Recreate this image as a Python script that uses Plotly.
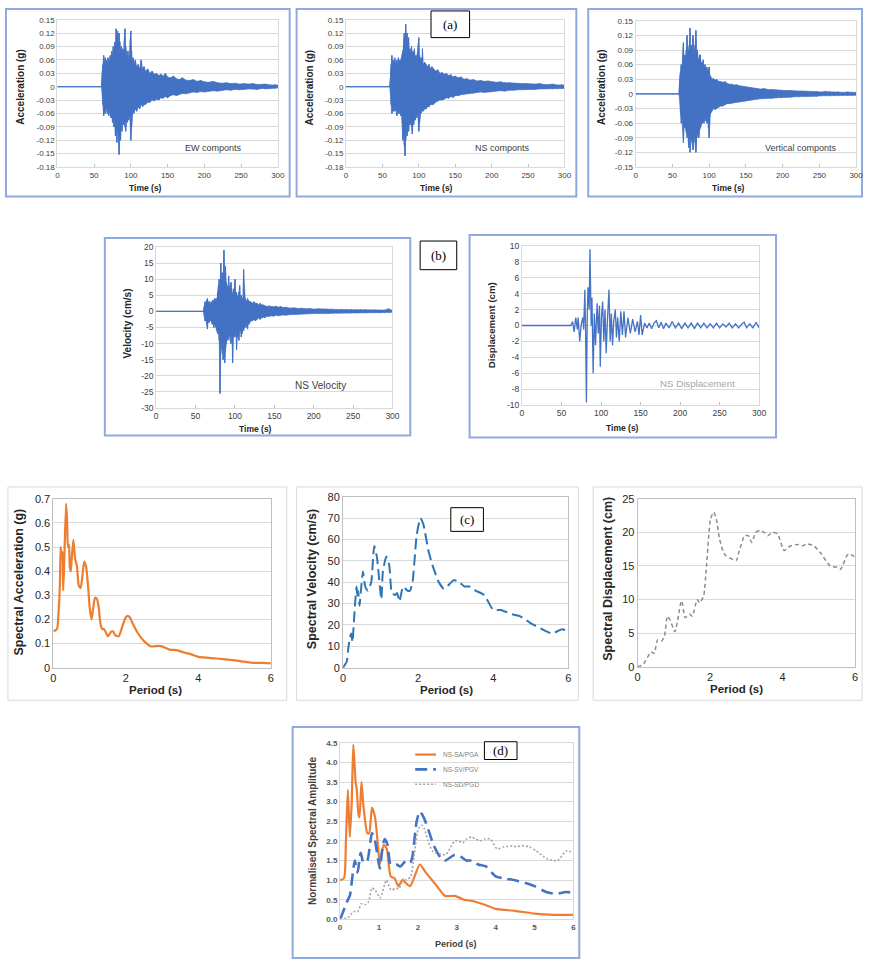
import plotly.graph_objects as go

# ---------------- DATA ----------------
# (a) acceleration records: time (s), upper / lower envelope peaks (g)
EW_T = [0, 60, 61, 62, 63, 64, 65, 66, 67, 68,
        69, 70, 71, 72, 73, 74, 75, 76, 77, 78,
        79, 80, 81, 82, 83, 84, 85, 86, 87, 88,
        89, 90, 91, 92, 93, 94, 95, 96, 97, 98,
        99, 100, 101, 102, 103, 104, 106, 108, 110, 112,
        114, 116, 118, 120, 123, 126, 129, 132, 135, 138,
        141, 144, 147, 150, 154, 158, 162, 166, 170, 175,
        180, 185, 190, 195, 200, 206, 212, 218, 224, 230,
        236, 242, 248, 254, 260, 266, 272, 278, 284, 290,
        296, 300]
EW_UP = [0, 0, 0.03, 0.05, 0.07, 0.05, 0.065, 0.04, 0.06, 0.05,
         0.065, 0.045, 0.06, 0.07, 0.055, 0.08, 0.065, 0.09, 0.075, 0.1,
         0.085, 0.13, 0.11, 0.125, 0.095, 0.12, 0.1, 0.08, 0.09, 0.075,
         0.085, 0.07, 0.1, 0.13, 0.09, 0.075, 0.065, 0.08, 0.06, 0.07,
         0.1, 0.125, 0.08, 0.06, 0.065, 0.05, 0.06, 0.045, 0.05, 0.04,
         0.06, 0.04, 0.045, 0.035, 0.04, 0.03, 0.035, 0.028, 0.03, 0.025,
         0.028, 0.024, 0.03, 0.022, 0.02, 0.024, 0.018, 0.016, 0.02, 0.015,
         0.014, 0.016, 0.012, 0.014, 0.011, 0.01, 0.012, 0.009, 0.008, 0.009,
         0.007, 0.008, 0.006, 0.007, 0.006, 0.007, 0.005, 0.005, 0.006, 0.004,
         0.005, 0.004]
EW_LO = [0, 0, -0.03, -0.04, -0.065, -0.05, -0.06, -0.045, -0.055, -0.06,
         -0.05, -0.065, -0.05, -0.06, -0.07, -0.065, -0.08, -0.07, -0.09, -0.085,
         -0.11, -0.1, -0.125, -0.09, -0.11, -0.152, -0.11, -0.12, -0.09, -0.1,
         -0.07, -0.085, -0.075, -0.09, -0.1, -0.07, -0.08, -0.06, -0.075, -0.065,
         -0.08, -0.12, -0.09, -0.06, -0.055, -0.06, -0.05, -0.055, -0.045, -0.05,
         -0.04, -0.045, -0.04, -0.04, -0.035, -0.035, -0.03, -0.032, -0.028, -0.03,
         -0.025, -0.026, -0.022, -0.025, -0.02, -0.018, -0.02, -0.017, -0.015, -0.016,
         -0.014, -0.012, -0.013, -0.011, -0.012, -0.01, -0.009, -0.01, -0.008, -0.007,
         -0.008, -0.006, -0.007, -0.006, -0.005, -0.005, -0.006, -0.004, -0.005, -0.004,
         -0.004, -0.003]

NS_T = [0, 60, 61, 62, 63, 64, 65, 66, 67, 68, 69,
        70, 71, 72, 73, 74, 75, 76, 77, 78, 79,
        80, 81, 82, 83, 84, 85, 86, 87, 88, 89,
        90, 91, 92, 93, 94, 95, 96, 97, 98, 99,
        100, 101, 102, 103, 104, 105, 106, 108, 110, 112,
        114, 116, 118, 120, 123, 126, 129, 132, 135, 138,
        141, 144, 147, 150, 154, 158, 162, 166, 170, 175,
        180, 185, 190, 195, 200, 206, 212, 218, 224, 230,
        236, 242, 248, 254, 260, 266, 272, 278, 284, 290,
        296, 300]
NS_UP = [0, 0, 0.02, 0.05, 0.07, 0.05, 0.06, 0.045, 0.065, 0.05, 0.055,
         0.06, 0.045, 0.065, 0.05, 0.06, 0.055, 0.065, 0.07, 0.08, 0.09,
         0.12, 0.1, 0.14, 0.11, 0.12, 0.09, 0.11, 0.08, 0.085, 0.07,
         0.09, 0.075, 0.08, 0.07, 0.085, 0.065, 0.07, 0.06, 0.075, 0.09,
         0.11, 0.07, 0.06, 0.065, 0.055, 0.085, 0.05, 0.055, 0.05, 0.045,
         0.05, 0.04, 0.045, 0.04, 0.035, 0.038, 0.03, 0.032, 0.028, 0.03,
         0.025, 0.027, 0.022, 0.024, 0.02, 0.022, 0.017, 0.018, 0.015, 0.016,
         0.013, 0.014, 0.012, 0.013, 0.011, 0.01, 0.011, 0.009, 0.009, 0.008,
         0.008, 0.007, 0.007, 0.006, 0.006, 0.007, 0.005, 0.005, 0.006, 0.004,
         0.005, 0.004]
NS_LO = [0, 0, -0.02, -0.04, -0.06, -0.05, -0.055, -0.05, -0.055, -0.045, -0.06,
         -0.065, -0.05, -0.06, -0.055, -0.06, -0.065, -0.06, -0.08, -0.12, -0.1,
         -0.13, -0.155, -0.12, -0.1, -0.11, -0.09, -0.1, -0.08, -0.085, -0.075,
         -0.09, -0.106, -0.08, -0.085, -0.07, -0.075, -0.065, -0.07, -0.06, -0.075,
         -0.1, -0.08, -0.06, -0.06, -0.055, -0.05, -0.055, -0.05, -0.05, -0.045,
         -0.045, -0.04, -0.04, -0.04, -0.035, -0.032, -0.03, -0.03, -0.028, -0.025,
         -0.026, -0.022, -0.024, -0.02, -0.02, -0.018, -0.017, -0.016, -0.015, -0.015,
         -0.013, -0.012, -0.013, -0.011, -0.011, -0.01, -0.009, -0.01, -0.008, -0.008,
         -0.007, -0.007, -0.006, -0.006, -0.006, -0.005, -0.005, -0.005, -0.005, -0.004,
         -0.004, -0.004]

VT_T = [0, 59, 60, 61, 62, 63, 64, 65, 66, 67,
        68, 69, 70, 71, 72, 73, 74, 75, 76, 77,
        78, 79, 80, 81, 82, 83, 84, 85, 86, 87,
        88, 89, 90, 91, 92, 93, 94, 95, 96, 97,
        98, 99, 100, 101, 102, 104, 106, 108, 110, 113,
        116, 119, 122, 125, 128, 131, 134, 137, 140, 144,
        148, 152, 156, 160, 165, 170, 175, 180, 186, 192,
        198, 204, 210, 216, 222, 228, 234, 240, 246, 252,
        258, 264, 270, 276, 282, 288, 294, 300]
VT_UP = [0, 0, 0.03, 0.045, 0.06, 0.05, 0.07, 0.105, 0.06, 0.08,
         0.065, 0.09, 0.12, 0.08, 0.09, 0.1, 0.135, 0.09, 0.1, 0.085,
         0.12, 0.08, 0.08, 0.1, 0.13, 0.09, 0.09, 0.075, 0.07, 0.08,
         0.08, 0.065, 0.065, 0.06, 0.07, 0.055, 0.06, 0.06, 0.05, 0.055,
         0.045, 0.05, 0.055, 0.04, 0.035, 0.03, 0.032, 0.028, 0.03, 0.026,
         0.025, 0.024, 0.025, 0.021, 0.02, 0.02, 0.018, 0.019, 0.017, 0.016,
         0.015, 0.014, 0.013, 0.012, 0.011, 0.01, 0.011, 0.009, 0.009, 0.008,
         0.008, 0.007, 0.007, 0.006, 0.006, 0.006, 0.005, 0.005, 0.005, 0.004,
         0.005, 0.004, 0.004, 0.004, 0.003, 0.004, 0.003, 0.003]
VT_LO = [0, 0, -0.03, -0.04, -0.06, -0.05, -0.08, -0.1, -0.07, -0.065,
         -0.07, -0.08, -0.09, -0.085, -0.11, -0.09, -0.12, -0.1, -0.09, -0.1,
         -0.115, -0.09, -0.09, -0.1, -0.12, -0.085, -0.08, -0.09, -0.09, -0.075,
         -0.07, -0.065, -0.06, -0.06, -0.055, -0.06, -0.05, -0.055, -0.05, -0.06,
         -0.05, -0.07, -0.09, -0.05, -0.04, -0.035, -0.03, -0.032, -0.03, -0.027,
         -0.025, -0.025, -0.022, -0.02, -0.02, -0.019, -0.018, -0.017, -0.016, -0.016,
         -0.015, -0.014, -0.013, -0.012, -0.011, -0.01, -0.01, -0.009, -0.009, -0.008,
         -0.008, -0.007, -0.007, -0.006, -0.006, -0.005, -0.005, -0.005, -0.005, -0.004,
         -0.004, -0.004, -0.004, -0.003, -0.003, -0.003, -0.003, -0.003]

# (b) NS velocity (cm/s) envelope peaks
VEL_T = [0, 60, 61, 62, 63, 64, 65, 66, 67, 68,
         69, 70, 71, 72, 73, 74, 75, 76, 77, 78,
         79, 80, 81, 82, 83, 84, 85, 86, 87, 88,
         89, 90, 91, 92, 93, 94, 95, 96, 97, 98,
         99, 100, 101, 102, 103, 104, 105, 106, 107, 108,
         109, 110, 111, 112, 113, 114, 115, 116, 117, 118,
         120, 122, 124, 126, 128, 130, 132, 134, 136, 138,
         140, 143, 146, 149, 152, 155, 158, 161, 165, 170,
         175, 180, 185, 190, 195, 200, 206, 212, 218, 224,
         230, 236, 242, 248, 254, 260, 266, 272, 278, 284,
         290, 295, 300]
VEL_UP = [0, 0, 1.5, 3, 2, 3.5, 4, 3, 2.5, 3,
          2, 3, 2.5, 3.5, 3, 4, 3, 4, 3.5, 6,
          8, 10, 6, 15, 9, 12, 8, 19, 11, 14,
          9, 8, 6, 11, 7, 8, 9, 6, 5, 7,
          6, 10, 5, 6, 4, 5, 6, 8, 4, 5,
          4, 3, 13, 5, 4, 3.5, 3, 4, 3.5, 3,
          3, 2.5, 3, 2.5, 2.5, 2, 2.5, 2, 2, 1.8,
          1.5, 1.7, 1.5, 1.4, 1.6, 1.3, 1.5, 1.2, 1.3, 1.0,
          1.1, 0.9, 1.0, 0.8, 0.9, 0.7, 0.8, 0.7, 0.6, 0.7,
          0.6, 0.6, 0.5, 0.6, 0.5, 0.5, 0.5, 0.4, 0.5, 0.4,
          0.4, 0.8, 0.3]
VEL_LO = [0, 0, -1.5, -3, -2.5, -4, -5.5, -3, -3.5, -2.5,
          -3, -3, -4, -3, -5, -4, -4.5, -5, -6, -7,
          -6, -9, -25.5, -13, -10, -12, -15, -9, -16, -12,
          -10, -8, -9, -8, -7, -9, -10, -6, -16, -8,
          -7, -8, -6, -12, -7, -8, -9, -5, -6, -8,
          -7, -5, -6, -5, -4, -5, -4, -5.5, -3.5, -4,
          -3, -3, -2.5, -3, -2.5, -2, -2.5, -2, -1.8, -2,
          -1.5, -1.6, -1.4, -1.5, -1.2, -1.4, -1.2, -1.1, -1.2, -1.0,
          -1.0, -0.9, -0.9, -0.8, -0.8, -0.7, -0.7, -0.6, -0.7, -0.6,
          -0.6, -0.5, -0.5, -0.5, -0.5, -0.4, -0.5, -0.4, -0.4, -0.4,
          -0.4, -0.4, -0.3]

# (b) NS displacement (cm)
DIS_T = [0, 62, 64, 66, 68, 70, 71, 73, 75, 77, 78, 79.5, 80.5, 81.5, 82.5, 83.5,
         85, 86, 87.5, 88.5, 90, 91.5, 93, 95, 96.5, 98, 99, 100.5, 102, 103.5,
         105, 106.5, 108, 110, 111.5, 113, 114.5, 116, 118, 119.5, 121, 123, 125,
         127, 129, 131, 134, 137, 140, 143, 146, 148, 150, 152, 155, 158, 161, 164,
         167, 170, 173, 176, 179, 182, 186, 190, 194, 198, 202, 206, 210, 214, 218,
         222, 226, 230, 234, 238, 242, 246, 250, 254, 258, 262, 266, 270, 274, 278,
         281, 284, 288, 292, 296, 300]
DIS_V = [0, 0, 0.5, -0.8, 1.0, -0.5, 1.0, -2.0, 0.2, 1.0, -0.5, 4.5, -1.0, -9.7, 1.0, 4.8,
         2.0, 9.6, 0.0, 3.5, -6.0, 1.5, -2.5, 2.8, -1.0, 2.5, -5.2, 1.0, 3.0, -2.0,
         2.0, -3.5, 0.5, 4.5, -2.0, 1.5, -2.5, 0.5, 2.0, -1.5, 1.0, -2.0, 1.8,
         -1.2, 1.8, -1.5, 1.0, -1.0, 0.8, -0.8, 0.5, -1.2, 1.3, -1.2, 0.3, -0.3, 0.3, -0.4,
         0.3, 0.6, -0.3, 0.4, -0.4, 0.3, -0.3, 0.5, -0.3, 0.3, -0.4, 0.3, -0.3, 0.3, -0.4,
         0.3, -0.3, 0.3, -0.3, 0.2, -0.3, 0.3, -0.3, 0.2, -0.2, 0.3, -0.3, 0.2, -0.3, 0.2,
         0.4, -0.3, 0.2, -0.3, 0.4, -0.3]

# (c) response spectra
SA_T = [0, 0.05, 0.1, 0.15, 0.18, 0.2, 0.22, 0.25, 0.27, 0.3, 0.35, 0.38, 0.4, 0.43,
        0.45, 0.48, 0.5, 0.55, 0.6, 0.65, 0.7, 0.75, 0.8, 0.85, 0.9, 0.95, 1.0, 1.05,
        1.1, 1.15, 1.2, 1.25, 1.3, 1.35, 1.4, 1.5, 1.6, 1.65, 1.7, 1.8, 1.9, 2.0, 2.05,
        2.1, 2.2, 2.3, 2.5, 2.7, 2.9, 3.0, 3.2, 3.4, 3.6, 3.8, 4.0, 4.5, 5.0, 5.5, 5.8, 6.0]
SA_V = [0.15, 0.155, 0.16, 0.25, 0.35, 0.5, 0.45, 0.48, 0.32, 0.45, 0.68, 0.6, 0.5, 0.51,
        0.42, 0.4, 0.44, 0.53, 0.45, 0.42, 0.34, 0.33, 0.38, 0.44, 0.42, 0.35, 0.25, 0.2,
        0.25, 0.29, 0.285, 0.25, 0.18, 0.16, 0.16, 0.13, 0.15, 0.15, 0.135, 0.13, 0.17, 0.21, 0.215,
        0.21, 0.18, 0.15, 0.11, 0.088, 0.09, 0.088, 0.075, 0.073, 0.063, 0.055, 0.045, 0.038, 0.03, 0.02, 0.02, 0.018]

SV_T = [0, 0.1, 0.14, 0.18, 0.22, 0.25, 0.32, 0.36, 0.38, 0.4, 0.44, 0.47, 0.53, 0.57, 0.59,
        0.66, 0.75, 0.83, 0.9, 0.98, 1.02, 1.06, 1.15, 1.23, 1.3, 1.39, 1.44, 1.5, 1.6, 1.72,
        1.78, 1.85, 1.96, 2.06, 2.14, 2.27, 2.38, 2.55, 2.68, 2.77, 2.95, 3.1, 3.23, 3.37,
        3.54, 3.76, 4.0, 4.2, 4.5, 4.72, 4.98, 5.3, 5.56, 5.83, 6.0]
SV_V = [0, 3, 9, 14, 16, 12, 30, 38, 33, 36, 29, 35, 45, 40, 38,
        36, 40, 57, 52, 38, 32, 45, 52, 48, 35, 34, 35, 31, 38, 36,
        36, 40, 62, 70, 67, 55, 48, 40, 37, 38, 41, 40, 38, 38,
        36, 34, 27, 27, 25, 24, 21, 18, 16, 18, 17]

SD_T = [0, 0.15, 0.37, 0.46, 0.55, 0.66, 0.74, 0.82, 0.89, 1.03, 1.19, 1.22, 1.31, 1.44,
        1.51, 1.64, 1.71, 1.82, 1.9, 2.01, 2.1, 2.17, 2.26, 2.37, 2.44, 2.72, 2.79, 2.95,
        3.05, 3.15, 3.26, 3.38, 3.49, 3.59, 3.72, 3.86, 4.04, 4.22, 4.45, 4.54, 4.68, 4.86,
        5.04, 5.31, 5.5, 5.6, 5.77, 5.83, 6.0]
SD_V = [0, 0.3, 2.2, 2.0, 4.0, 3.8, 4.5, 7.5, 7.0, 5.2, 9.5, 9.8, 7.3, 7.8,
        7.5, 10.0, 9.5, 10.5, 15.0, 22.0, 23.0, 22.0, 19.0, 17.0, 16.5, 15.8, 17.0, 19.5,
        19.5, 18.5, 20.0, 20.3, 20.0, 19.5, 20.0, 19.8, 17.3, 18.0, 18.2, 18.0, 18.3, 18.0,
        17.0, 15.0, 14.8, 14.5, 16.5, 16.8, 16.3]

# (d) normalised spectra
NSA_T = [0, 0.1, 0.15, 0.2, 0.25, 0.3, 0.34, 0.4, 0.43, 0.47, 0.5, 0.55, 0.6, 0.7, 0.75,
         0.82, 0.9, 0.98, 1.02, 1.12, 1.2, 1.3, 1.4, 1.5, 1.6, 1.8, 2.05, 2.2, 2.45, 2.7,
         2.95, 3.2, 3.4, 3.7, 4.0, 4.5, 5.0, 5.5, 6.0]
NSA_V = [1.0, 1.05, 2.0, 3.3, 2.1, 3.0, 4.45, 3.5, 3.3, 2.7, 2.6, 3.5, 2.9, 2.2, 2.2,
         2.85, 2.6, 1.8, 1.4, 1.9, 1.8, 1.1, 1.05, 0.85, 1.0, 0.85, 1.4, 1.2, 0.9, 0.6,
         0.6, 0.5, 0.47, 0.38, 0.27, 0.22, 0.15, 0.12, 0.12]
NSV_T = [0, 0.2, 0.25, 0.33, 0.38, 0.45, 0.53, 0.6, 0.7, 0.82, 0.9, 1.02, 1.1, 1.15, 1.22,
         1.3, 1.45, 1.55, 1.7, 1.8, 1.85, 1.97, 2.05, 2.15, 2.3, 2.4, 2.6, 2.7, 2.95, 3.1,
         3.25, 3.4, 3.55, 3.75, 4.0, 4.2, 4.5, 4.7, 5.0, 5.3, 5.55, 5.8, 6.0]
NSV_V = [0, 0.5, 0.6, 1.2, 1.5, 1.2, 1.7, 1.45, 1.5, 2.2, 2.0, 1.3, 1.9, 2.05, 1.9,
         1.4, 1.4, 1.35, 1.5, 1.45, 1.55, 2.5, 2.75, 2.6, 2.2, 1.9, 1.55, 1.5, 1.65, 1.6,
         1.5, 1.5, 1.4, 1.35, 1.1, 1.05, 1.0, 0.95, 0.85, 0.7, 0.65, 0.7, 0.68]
NSD_T = [0, 0.2, 0.35, 0.45, 0.55, 0.65, 0.73, 0.82, 0.9, 1.03, 1.19, 1.31, 1.44, 1.51,
         1.64, 1.71, 1.82, 1.9, 2.01, 2.1, 2.17, 2.26, 2.37, 2.44, 2.72, 2.79, 2.95, 3.05,
         3.15, 3.26, 3.38, 3.49, 3.59, 3.72, 3.86, 4.04, 4.22, 4.45, 4.54, 4.68, 4.86, 5.04,
         5.31, 5.5, 5.6, 5.77, 5.83, 6.0]
NSD_V = [0, 0.05, 0.2, 0.2, 0.4, 0.38, 0.45, 0.8, 0.75, 0.55, 1.0, 0.75, 0.8, 0.78,
         1.05, 1.0, 1.1, 1.6, 2.3, 2.4, 2.3, 2.0, 1.75, 1.7, 1.65, 1.75, 2.0, 2.0,
         1.95, 2.05, 2.1, 2.05, 2.0, 2.05, 2.05, 1.8, 1.85, 1.87, 1.85, 1.88, 1.85, 1.75,
         1.55, 1.5, 1.5, 1.7, 1.75, 1.7]
LEGEND_NAMES = ["NS-SA/PGA", "NS-SV/PGV", "NS-SD/PGD"]

# tick labels
ACC_TICKS_A = [0.15, 0.12, 0.09, 0.06, 0.03, 0, -0.03, -0.06, -0.09, -0.12, -0.15, -0.18]
ACC_TEXT_A = ["0.15", "0.12", "0.09", "0.06", "0.03", "0", "-0.03", "-0.06", "-0.09", "-0.12", "-0.15", "-0.18"]
ACC_TICKS_V = [0.15, 0.12, 0.09, 0.06, 0.03, 0, -0.03, -0.06, -0.09, -0.12, -0.15]
ACC_TEXT_V = ["0.15", "0.12", "0.09", "0.06", "0.03", "0", "-0.03", "-0.06", "-0.09", "-0.12", "-0.15"]
VEL_TICKS = [20, 15, 10, 5, 0, -5, -10, -15, -20, -25, -30]
VEL_TEXT = ["20", "15", "10", "5", "0", "-5", "-10", "-15", "-20", "-25", "-30"]
DIS_TICKS = [10, 8, 6, 4, 2, 0, -2, -4, -6, -8, -10]
DIS_TEXT = ["10", "8", "6", "4", "2", "0", "-2", "-4", "-6", "-8", "-10"]
NORM_TICKS = [0, 0.5, 1, 1.5, 2, 2.5, 3, 3.5, 4, 4.5]
NORM_TEXT = ["0.0", "0.5", "1.0", "1.5", "2.0", "2.5", "3.0", "3.5", "4.0", "4.5"]

# ---------------- LAYOUT HELPERS ----------------
W, H = 871, 965
def fx(p): return p / W
def fy(p): return 1 - p / H

def zigzag(t, up, lo):
    xs, ys = [], []
    for a, u, l in zip(t, up, lo):
        xs += [a, a]
        ys += [u, l]
    return xs, ys

BLUE = "#4472C4"
FONT = "Liberation Sans"
fig = go.Figure()

def add_line(i, x, y, **kw):
    sfx = "" if i == 1 else str(i)
    fig.add_trace(go.Scatter(x=x, y=y, xaxis="x" + sfx, yaxis="y" + sfx,
                             hoverinfo="skip", showlegend=False, **kw))

def add_band(i, t, up, lo):
    add_line(i, list(t) + list(t)[::-1], list(up) + list(lo)[::-1], mode="lines",
             fill="toself", fillcolor=BLUE, line=dict(color=BLUE, width=0.6))
    xs, ys = zigzag(t, up, lo)
    add_line(i, xs, ys, mode="lines", line=dict(color=BLUE, width=1))

# panel pixel boxes: (left, right, top, bottom)
BOX = {1: (55, 278, 14, 163), 2: (347, 568, 14, 163), 3: (640, 863, 15, 163),
       4: (155, 394, 244, 407), 5: (525, 765, 243, 404),
       6: (51, 271, 499, 670), 7: (344, 572, 497, 670), 8: (642, 862, 499, 669),
       9: (341, 577, 746, 925)}

add_band(1, EW_T, EW_UP, EW_LO)
add_band(2, NS_T, NS_UP, NS_LO)
add_band(3, VT_T, VT_UP, VT_LO)
add_band(4, VEL_T, VEL_UP, VEL_LO)
add_line(5, DIS_T, DIS_V, mode="lines", line=dict(color=BLUE, width=1.3))
add_line(6, SA_T, SA_V, mode="lines", line=dict(color="#ED7D31", width=2.2, shape="spline", smoothing=0.6))
add_line(7, SV_T, SV_V, mode="lines", line=dict(color="#2E75B6", width=2, dash="11px,5px", shape="spline", smoothing=0.5))
add_line(8, SD_T, SD_V, mode="lines", line=dict(color="#8C8C8C", width=1.5, dash="4px,3px", shape="spline", smoothing=0.5))
D_STYLES = [dict(color="#ED7D31", width=2.2, dash="solid"),
            dict(color=BLUE, width=2.6, dash="12px,6px"),
            dict(color="#A5A5A5", width=1.6, dash="2px,2px")]
for (tt, vv), st in zip([(NSA_T, NSA_V), (NSV_T, NSV_V), (NSD_T, NSD_V)], D_STYLES):
    add_line(9, tt, vv, mode="lines", line=dict(shape="spline", smoothing=0.6, **st))

layout = dict(width=W, height=H, margin=dict(l=0, r=0, t=0, b=0),
              paper_bgcolor="white", plot_bgcolor="white", showlegend=False,
              font=dict(family=FONT, color="#404040"))

def axes(i, xr, xdtick, yr, ytv=None, ytt=None, ydtick=None, fs=8, tcol="#404040",
         lcol="#D9D9D9", bold=False, xticks=""):
    sfx = "" if i == 1 else str(i)
    l, r, t, b = BOX[i]
    tf = dict(family=FONT, size=fs, color=tcol)
    xa = dict(domain=[fx(l), fx(r)], range=xr, dtick=xdtick, tick0=0, anchor="y" + sfx,
              showgrid=False, zeroline=False, showline=True, mirror=True, linecolor=lcol,
              linewidth=1, ticks=xticks, ticklen=3, tickcolor="#BFBFBF", tickfont=tf,
              fixedrange=True)
    ya = dict(domain=[fy(b), fy(t)], range=yr, anchor="x" + sfx, showgrid=True,
              gridcolor="#D9D9D9", gridwidth=1, zeroline=False, showline=True, mirror=True,
              linecolor=lcol, linewidth=1, ticks="", tickfont=tf, fixedrange=True)
    if ytv is not None:
        ya.update(tickmode="array", tickvals=ytv,
                  ticktext=["<b>%s</b>" % s for s in ytt] if bold else ytt)
    else:
        ya.update(dtick=ydtick, tick0=0)
    if bold:
        xa.update(tickprefix="<b>", ticksuffix="</b>")
    layout["xaxis" + sfx] = xa
    layout["yaxis" + sfx] = ya

axes(1, [0, 300], 50, [-0.18, 0.15], ACC_TICKS_A, ACC_TEXT_A, xticks="inside")
axes(2, [0, 300], 50, [-0.18, 0.15], ACC_TICKS_A, ACC_TEXT_A, xticks="inside")
axes(3, [0, 300], 50, [-0.15, 0.15], ACC_TICKS_V, ACC_TEXT_V, xticks="inside")
axes(4, [0, 300], 50, [-30, 20], VEL_TICKS, VEL_TEXT, fs=8.5, xticks="inside")
axes(5, [0, 300], 50, [-10, 10], DIS_TICKS, DIS_TEXT, fs=8.5, xticks="inside")
axes(6, [0, 6], 2, [0, 0.7], ydtick=0.1, fs=11, tcol="#262626", lcol="#BFBFBF")
axes(7, [0, 6], 2, [0, 80], ydtick=10, fs=11, tcol="#262626", lcol="#BFBFBF")
axes(8, [0, 6], 2, [0, 25], ydtick=5, fs=11, tcol="#262626", lcol="#BFBFBF")
axes(9, [0, 6], 1, [0, 4.5], NORM_TICKS, NORM_TEXT, fs=8, tcol="#595959", bold=True)

# frames
shapes = []
def frame(l, t, r, b, col, w):
    shapes.append(dict(type="rect", xref="paper", yref="paper", x0=fx(l), x1=fx(r),
                       y0=fy(b), y1=fy(t), line=dict(color=col, width=w), layer="below"))
FR = "#8FAADC"
frame(3, 3, 290, 193, FR, 2)
frame(297, 3, 580, 193, FR, 2)
frame(592, 3, 869, 193, FR, 2)
frame(103, 235, 412, 435, FR, 2)
frame(472, 232, 782, 437, FR, 2)
frame(5, 487, 287, 703, "#D9D9D9", 1)
frame(297, 487, 582, 703, "#D9D9D9", 1)
frame(597, 487, 869, 703, "#D9D9D9", 1)
frame(293, 730, 583, 964, FR, 2)

ann = []
def label_box(l, t, r, b, text):
    shapes.append(dict(type="rect", xref="paper", yref="paper", x0=fx(l), x1=fx(r),
                       y0=fy(b), y1=fy(t), line=dict(color="#000000", width=1),
                       fillcolor="white", layer="above"))
    ann.append(dict(text=text, xref="paper", yref="paper", x=fx((l + r) / 2), y=fy((t + b) / 2),
                    showarrow=False, font=dict(family="Liberation Serif", size=13, color="black"),
                    xanchor="center", yanchor="middle"))
label_box(433, 5, 472, 32, "(a)")
label_box(422, 238, 459, 267, "(b)")
label_box(453, 508, 486, 532, "(c)")
label_box(487, 745, 520, 763, "(d)")

def text(x, y, s, size, color="#404040", bold=False, rot=0, xanchor="center"):
    ann.append(dict(text=("<b>%s</b>" % s) if bold else s, xref="paper", yref="paper",
                    x=fx(x), y=fy(y), showarrow=False, textangle=rot,
                    font=dict(family=FONT, size=size, color=color),
                    xanchor=xanchor, yanchor="middle"))

# axis titles
for x0 in (18, 311, 606):
    text(x0, 82, "Acceleration (g)", 10, "#262626", True, -90)
text(144, 184, "Time (s)", 8.5, "#262626", True)
text(439, 184, "Time (s)", 8.5, "#262626", True)
text(734, 184, "Time (s)", 8.5, "#262626", True)
text(126, 322, "Velocity (cm/s)", 10, "#262626", True, -90)
text(255, 428, "Time (s)", 8.5, "#262626", True)
text(495, 323, "Displacement (cm)", 9.7, "#262626", True, -90)
text(627, 427, "Time (s)", 8.5, "#262626", True)
text(16, 583, "Spectral Acceleration (g)", 12.5, "#262626", True, -90)
text(154, 693, "Period (s)", 11.5, "#262626", True)
text(312, 580, "Spectral Velocity (cm/s)", 12.5, "#262626", True, -90)
text(449, 693, "Period (s)", 11.5, "#262626", True)
text(612, 580, "Spectral Displacement (cm)", 12.5, "#262626", True, -90)
text(742, 692, "Period (s)", 11.5, "#262626", True)
text(313, 835, "Normalised Spectral Amplitude", 10, "#404040", True, -90)
text(458, 950, "Period (s)", 9, "#404040", True)

# in-plot notes
text(213, 144, "EW componts", 9)
text(505, 144, "NS componts", 9)
text(807, 144, "Vertical componts", 9)
text(321, 384, "NS Velocity", 10)
text(703, 382, "NS Displacement", 9.7, "#A6A6A6")

# legend of panel (d)
for k, (nm, st) in enumerate(zip(LEGEND_NAMES, D_STYLES)):
    yy = [758, 773, 788][k]
    shapes.append(dict(type="line", xref="paper", yref="paper", x0=fx(417), x1=fx(438),
                       y0=fy(yy), y1=fy(yy), line=dict(color=st["color"], width=st["width"],
                                                       dash=st["dash"])))
    text(443, yy, nm, 6.5, "#7F7F7F", xanchor="left")

layout["shapes"] = shapes
layout["annotations"] = ann
fig.update_layout(**layout)
fig.write_html("out.html")
